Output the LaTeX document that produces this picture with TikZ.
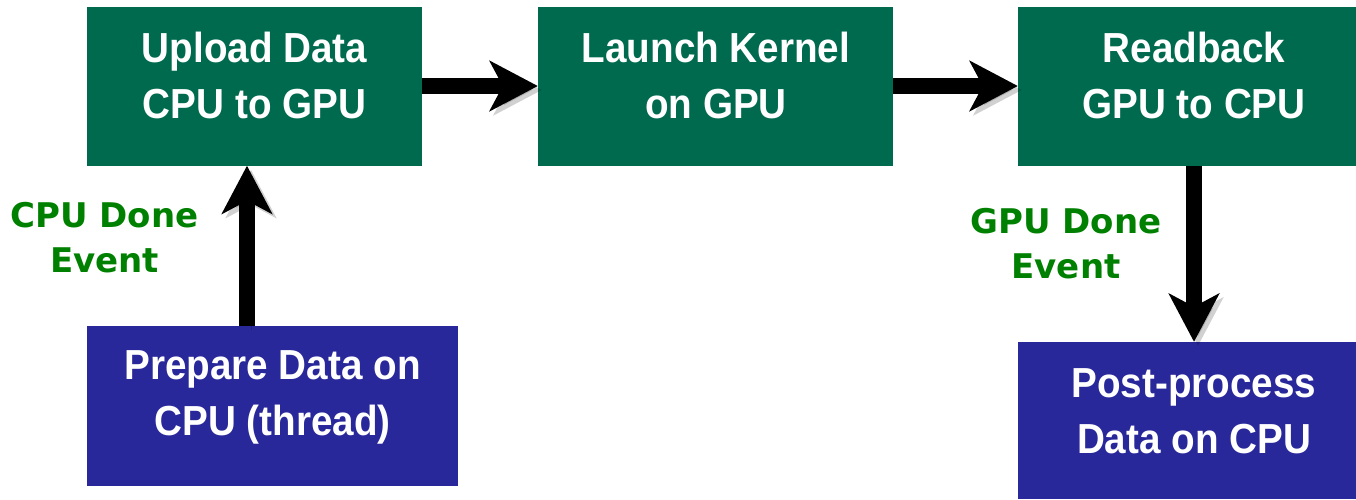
\documentclass[tikz,border=0pt]{standalone}
\usepackage{fontspec}
\newfontfamily\boxfont{Liberation Sans}[FakeStretch=0.92]
\newfontfamily\evtfont{DejaVu Sans}
\usetikzlibrary{arrows.meta,positioning}
\definecolor{gpugreen}{HTML}{006A4E}
\definecolor{cpublue}{HTML}{29289A}
\definecolor{evgreen}{HTML}{008000}

\begin{document}
\begin{tikzpicture}[
  x=1pt,y=-1pt,
  gbox/.style={fill=gpugreen,minimum height=159pt,inner sep=0pt},
  bbox/.style={fill=cpublue,inner sep=0pt},
  txt/.style={text=white,font=\boxfont\bfseries\fontsize{42}{56}\selectfont,align=center,inner sep=0pt},
  evt/.style={text=evgreen,font=\evtfont\bfseries\fontsize{34}{45}\selectfont,align=center,inner sep=0pt},
  arr/.style={-{Stealth[length=48pt,width=50pt,inset=13pt]},line width=16pt,
    preaction={draw=black,opacity=0.18,transform canvas={shift={(4pt,-4pt)}}}}
]
\useasboundingbox (0,0) rectangle (1356,499);
% GPU side boxes
\node[gbox,minimum width=335pt] (up) at (254.5,86) {};
\node[gbox,minimum width=355pt] (launch) at (715.5,86) {};
\node[gbox,minimum width=352pt] (rb) at (1194,86) {};
% CPU side boxes
\node[bbox,minimum width=371pt,minimum height=160pt] (prep) at (272,406) {};
\node[bbox,minimum width=352pt,minimum height=157pt] (post) at (1194,420.5) {};
% box texts
\node[txt] (uptxt) at (254.5,75) {Upload Data\\CPU to GPU};
\node[txt] (launchtxt) at (716,75) {Launch Kernel\\on GPU};
\node[txt] (rbtxt) at (1194,75) {Readback\\GPU to CPU};
\node[txt] (preptxt) at (272.5,397) {Prepare Data on\\CPU (thread)};
\node[txt] (posttxt) at (1194,411) {Post-process\\Data on CPU};
% events
\node[evt] (cpudone) at (104.5,238) {CPU Done\\Event};
\node[evt] (gpudone) at (1066,243.5) {GPU Done\\Event};
% arrows
\coordinate (cx) at (247,0);
\coordinate (gx) at (1194,0);
\draw[arr] (up.east) -- (launch.west);
\draw[arr] (launch.east) -- (rb.west);
\draw[arr] (prep.north -| cx) -- (up.south -| cx);
\draw[arr] (rb.south -| gx) -- (post.north -| gx);
\end{tikzpicture}
\end{document}
